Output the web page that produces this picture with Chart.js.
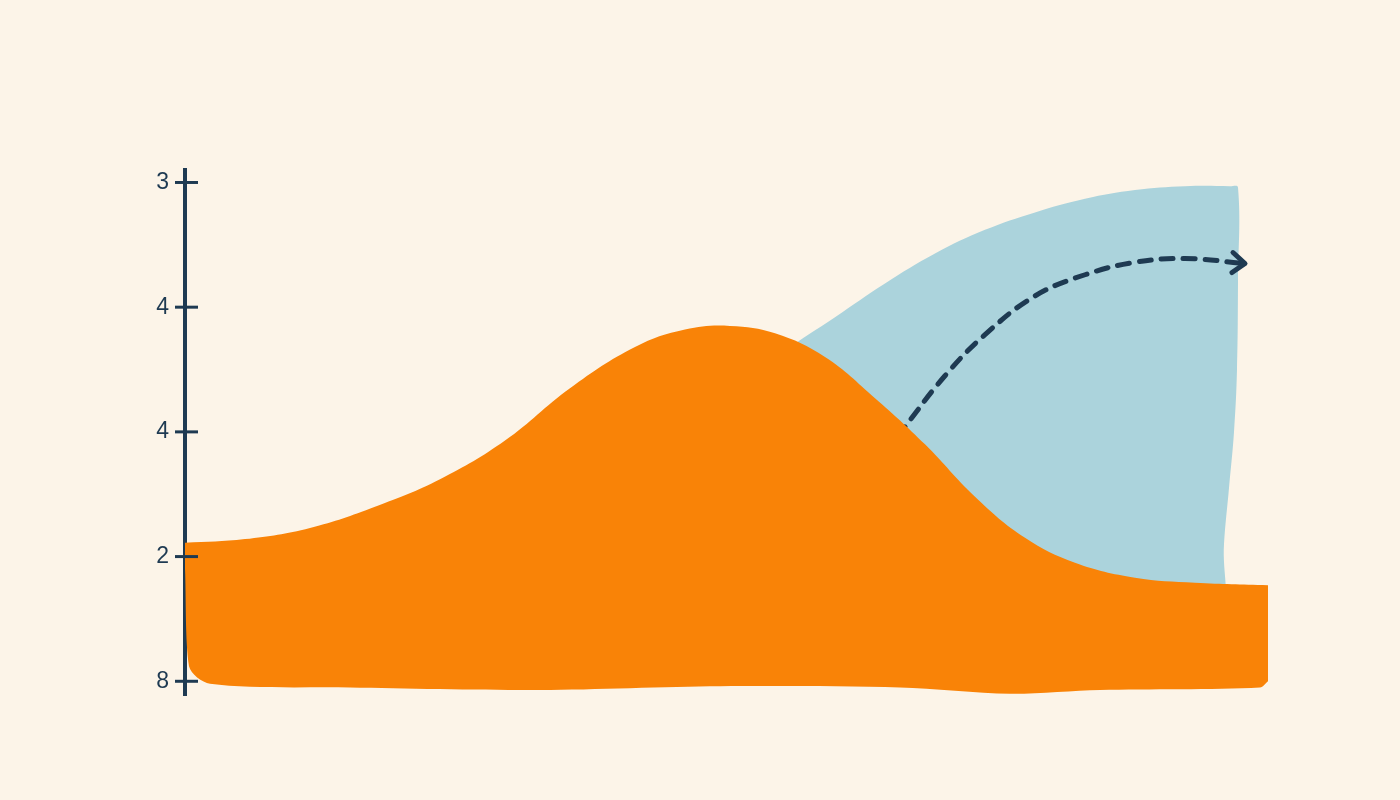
<!DOCTYPE html>
<html>
<head>
<meta charset="utf-8">
<script src="https://cdn.jsdelivr.net/npm/chart.js@4.4.1/dist/chart.umd.min.js"></script>
<style>
  html, body { margin: 0; padding: 0; background: #fcf4e8; }
  #wrap { width: 1400px; height: 800px; }
</style>
</head>
<body>
<div id="wrap"><canvas id="chart" width="1400" height="800"></canvas></div>
<script>
// y axis tick positions and the labels printed beside them
const tickValues = [0, 1, 2, 3, 4];
const tickLabels = ['8', '2', '4', '4', '3'];

// orange hill: top edge and ragged bottom edge
const orangeX = [0, 60, 125, 190, 255, 320, 385, 450, 500, 545, 590, 640, 690, 740, 790, 840, 890, 950, 1010, 1083];
const orangeTop = [1.11, 1.14, 1.23, 1.40, 1.62, 1.93, 2.35, 2.68, 2.82, 2.85, 2.79, 2.60, 2.27, 1.90, 1.48, 1.15, 0.95, 0.83, 0.79, 0.77];
const bottomX = [0, 4, 25, 165, 355, 535, 715, 825, 915, 1075, 1083];
const bottomY = [0.9, 0.12, -0.02, -0.05, -0.07, -0.04, -0.05, -0.1, -0.07, -0.05, 0.0];

// blue shape behind the hill (outline, closed)
const blueX = [580, 600, 650, 700, 750, 800, 850, 900, 950, 1000, 1045, 1053, 1053, 1052, 1049, 1044, 1039, 1036, 1000, 580];
const blueY = [2.5, 2.65, 2.92, 3.19, 3.43, 3.62, 3.76, 3.87, 3.94, 3.97, 3.97, 3.96, 3.2, 2.5, 2.0, 1.55, 1.1, 0.5, 0.5, 0.5];

// dashed arrow over the blue shape
const arrowX = [700, 720, 760, 800, 850, 900, 950, 1000, 1060];
const arrowY = [1.82, 2.04, 2.45, 2.78, 3.09, 3.26, 3.36, 3.39, 3.35];

const ink = '#1e3a52';

function pts(xs, ys) {
  return xs.map((x, i) => ({ x: x, y: ys[i] }));
}

const axisTicks = {
  id: 'axisTicks',
  afterDraw(chart) {
    const ctx = chart.ctx;
    const y = chart.scales.y;
    ctx.save();
    ctx.strokeStyle = ink;
    ctx.lineWidth = 3;
    tickValues.forEach(v => {
      const py = y.getPixelForValue(v);
      ctx.beginPath();
      ctx.moveTo(y.right - 10, py);
      ctx.lineTo(y.right + 13, py);
      ctx.stroke();
    });
    ctx.restore();
  }
};

const arrowHead = {
  id: 'arrowHead',
  afterDatasetsDraw(chart) {
    const meta = chart.getDatasetMeta(1);
    const tip = meta.data[meta.data.length - 1];
    const ctx = chart.ctx;
    ctx.save();
    ctx.strokeStyle = ink;
    ctx.lineWidth = 5;
    ctx.lineCap = 'round';
    ctx.lineJoin = 'round';
    ctx.beginPath();
    ctx.moveTo(tip.x - 12, tip.y - 11);
    ctx.lineTo(tip.x, tip.y);
    ctx.lineTo(tip.x - 13, tip.y + 9);
    ctx.stroke();
    ctx.restore();
  }
};

new Chart(document.getElementById('chart'), {
  type: 'line',
  data: {
    datasets: [
      {
        label: 'orange',
        data: pts(orangeX, orangeTop),
        borderWidth: 0,
        borderColor: 'rgba(0,0,0,0)',
        backgroundColor: '#f98307',
        fill: { target: 3 },
        pointRadius: 0,
        tension: 0.4
      },
      {
        label: 'arrow',
        data: pts(arrowX, arrowY),
        borderWidth: 5,
        borderColor: ink,
        borderDash: [12, 10],
        borderCapStyle: 'round',
        fill: false,
        pointRadius: 0,
        tension: 0.4
      },
      {
        label: 'blue',
        data: pts(blueX, blueY),
        borderWidth: 0,
        borderColor: 'rgba(0,0,0,0)',
        backgroundColor: '#abd3dc',
        fill: 'shape',
        pointRadius: 0,
        tension: 0.4
      },
      {
        label: 'base',
        data: pts(bottomX, bottomY),
        borderWidth: 0,
        borderColor: 'rgba(0,0,0,0)',
        fill: false,
        pointRadius: 0,
        tension: 0.3
      }
    ]
  },
  options: {
    responsive: false,
    animation: false,
    layout: { padding: { top: 170, bottom: 105, right: 130, left: 0 } },
    plugins: { legend: { display: false }, tooltip: { enabled: false } },
    scales: {
      x: {
        type: 'linear',
        display: false,
        min: 0,
        max: 1085
      },
      y: {
        type: 'linear',
        min: -0.11,
        max: 4.1,
        afterFit(scale) { scale.width = 185; },
        afterBuildTicks(scale) { scale.ticks = tickValues.map(v => ({ value: v })); },
        grid: { display: false, drawTicks: false },
        border: { display: true, color: ink, width: 4 },
        ticks: {
          padding: 16,
          color: ink,
          font: { family: 'Liberation Sans', size: 23 },
          callback: (v) => tickLabels[tickValues.indexOf(v)]
        }
      }
    }
  },
  plugins: [axisTicks, arrowHead]
});
</script>
</body>
</html>
